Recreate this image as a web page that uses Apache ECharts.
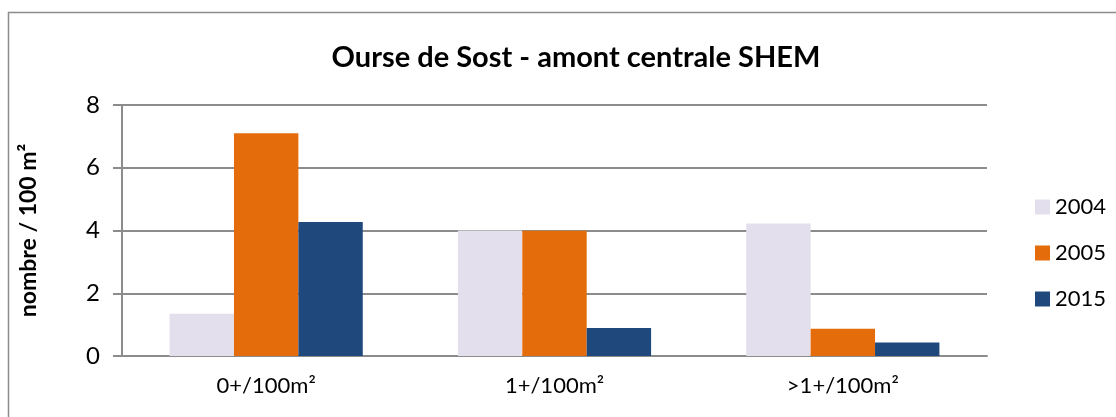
<!DOCTYPE html>
<html>
<head>
<meta charset="utf-8">
<script src="https://cdn.jsdelivr.net/npm/echarts@6/dist/echarts.min.js"></script>
<style>
  html, body { margin: 0; padding: 0; background: #fff; }
  #chart { width: 1116px; height: 417px; }
</style>
</head>
<body>
<div id="chart"></div>
<script>
// categories and values
var categories = ['0+/100m²', '1+/100m²', '>1+/100m²'];
var years = ['2004', '2005', '2015'];
var v2004 = [1.35, 4.0, 4.22];
var v2005 = [7.1, 3.99, 0.87];
var v2015 = [4.27, 0.89, 0.43];
var colors = ['#E4DFEC', '#E46C0A', '#1F497D'];

var font = 'Lato, "Open Sans", sans-serif';

document.addEventListener('DOMContentLoaded', function(){
  var chart = echarts.init(document.getElementById('chart'));
  var values = [v2004, v2005, v2015];

  var option = {
    backgroundColor: '#fff',
    animation: false,
    textStyle: { fontFamily: font },
    title: {
      text: 'Ourse de Sost - amont centrale SHEM',
      left: 571, top: 38, textAlign: 'center',
      textStyle: { fontSize: 29, fontWeight: 'bold', color: '#000', fontFamily: font }
    },
    graphic: [{
      type: 'rect',
      shape: { x: 8.5, y: 12.5, width: 1200, height: 500 },
      style: { fill: 'none', stroke: '#8c8c8c', lineWidth: 1.5 },
      silent: true
    }],
    legend: {
      orient: 'vertical',
      left: 1030, top: 191,
      itemWidth: 15, itemHeight: 15,
      itemGap: 24,
      icon: 'rect',
      textStyle: { fontSize: 22, color: '#000', fontFamily: font },
      data: years
    },
    grid: { left: 122, right: 129, top: 105, bottom: 61 },
    xAxis: {
      type: 'category',
      data: categories,
      axisTick: { show: false },
      axisLine: { lineStyle: { color: '#8c8c8c', width: 2 } },
      axisLabel: { fontSize: 22, color: '#000', margin: 19, fontFamily: font }
    },
    yAxis: {
      type: 'value',
      min: 0, max: 8, interval: 2,
      name: 'nombre / 100 m²',
      nameLocation: 'middle',
      nameGap: 82,
      nameTextStyle: { fontSize: 23, fontWeight: 'bold', color: '#000', fontFamily: font },
      axisLine: { show: true, lineStyle: { color: '#8c8c8c', width: 2 } },
      axisTick: { show: true, length: 9, inside: false, lineStyle: { color: '#8c8c8c', width: 2 } },
      axisLabel: { fontSize: 24, color: '#000', margin: 22, fontFamily: font },
      splitLine: { lineStyle: { color: '#8c8c8c', width: 2 } }
    },
    series: years.map(function(y, i){
      return {
        name: y,
        type: 'bar',
        data: values[i],
        barGap: '0%',
        barCategoryGap: '33%',
        itemStyle: { color: colors[i] }
      };
    })
  };
  chart.setOption(option);
});
</script>
</body>
</html>
